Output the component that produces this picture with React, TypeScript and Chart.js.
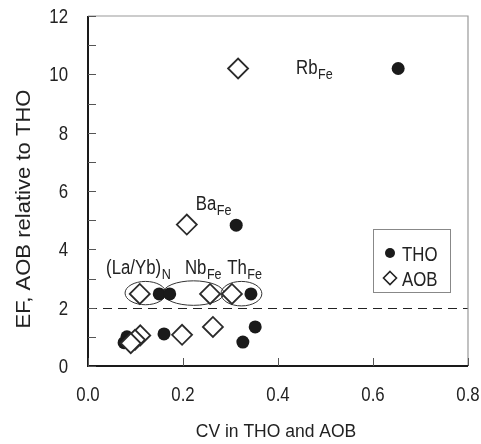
import React, { useEffect, useRef } from 'react';
import { Chart, registerables } from 'chart.js';

Chart.register(...registerables);

// ---- data ----
const THO_X = [0.653, 0.312, 0.343, 0.150, 0.172, 0.160, 0.326, 0.352, 0.082, 0.076];
const THO_Y = [10.2, 4.83, 2.47, 2.47, 2.47, 1.10, 0.82, 1.34, 1.00, 0.80];
const AOB_X = [0.316, 0.208, 0.303, 0.257, 0.109, 0.198, 0.263, 0.110, 0.099, 0.090];
const AOB_Y = [10.2, 4.85, 2.47, 2.47, 2.47, 1.07, 1.34, 1.05, 0.90, 0.78];

const X_TICKS = [0, 0.2, 0.4, 0.6, 0.8];
const Y_TICKS = [0, 2, 4, 6, 8, 10, 12];
const Y_MINOR_TICKS = [0, 1, 2, 3, 4, 5, 6, 7, 8, 9, 10, 11, 12];
const THRESHOLD = 2;

const X_TITLE = 'CV in THO and AOB';
const Y_TITLE = 'EF, AOB relative to THO';

// annotation labels: [main, sub, x (data), y baseline (data)]
const LABELS: [string, string, number, number][] = [
  ['Rb', 'Fe', 0.438, 10.0],
  ['Ba', 'Fe', 0.227, 5.36],
  ['(La/Yb)', 'N', 0.038, 3.16],
  ['Nb', 'Fe', 0.204, 3.16],
  ['Th', 'Fe', 0.293, 3.16],
];

// ellipses: [cx, cy, rx, ry] in data units
const ELLIPSES: [number, number, number, number][] = [
  [0.121, 2.5, 0.043, 0.40],
  [0.222, 2.5, 0.064, 0.42],
  [0.323, 2.48, 0.043, 0.42],
];

const REG = "'Liberation Sans', Arial, sans-serif";
const SQ = 0.84; // horizontal squeeze of the narrow lettering

function narrowText(ctx: CanvasRenderingContext2D, text: string, x: number, y: number, size: number, align: 'left' | 'right' | 'center', squeeze = SQ) {
  ctx.save();
  ctx.font = `${size}px ${REG}`;
  const w = ctx.measureText(text).width * squeeze;
  let sx = x;
  if (align === 'right') sx = x - w;
  else if (align === 'center') sx = x - w / 2;
  ctx.translate(sx, y);
  ctx.scale(squeeze, 1);
  ctx.textAlign = 'left';
  ctx.fillText(text, 0, 0);
  ctx.restore();
  return w;
}

const overlay = {
  id: 'overlay',
  beforeDatasetsDraw(chart: any) {
    const { ctx, scales } = chart;
    const x = scales.x, y = scales.y;
    ctx.save();
    ctx.strokeStyle = '#333';
    ctx.lineWidth = 1;
    for (const [cx, cy, rx, ry] of ELLIPSES) {
      const px = x.getPixelForValue(cx);
      const py = y.getPixelForValue(cy);
      const prx = Math.abs(x.getPixelForValue(cx + rx) - px);
      const pry = Math.abs(y.getPixelForValue(cy + ry) - py);
      ctx.beginPath();
      ctx.ellipse(px, py, prx, pry, 0, 0, Math.PI * 2);
      ctx.stroke();
    }
    const ty = Math.round(y.getPixelForValue(THRESHOLD)) + 0.5;
    ctx.setLineDash([9, 6]);
    ctx.strokeStyle = '#222';
    ctx.beginPath();
    ctx.moveTo(chart.chartArea.left, ty);
    ctx.lineTo(chart.chartArea.right, ty);
    ctx.stroke();
    ctx.setLineDash([]);
    ctx.restore();
  },
  afterDraw(chart: any) {
    const { ctx, scales, chartArea: a } = chart;
    const x = scales.x, y = scales.y;
    ctx.save();
    // frame
    ctx.strokeStyle = '#999';
    ctx.lineWidth = 1.2;
    ctx.beginPath();
    ctx.moveTo(a.left, a.top);
    ctx.lineTo(a.right, a.top);
    ctx.lineTo(a.right, a.bottom);
    ctx.stroke();
    ctx.strokeStyle = '#1a1a1a';
    ctx.lineWidth = 2;
    ctx.beginPath();
    ctx.moveTo(a.left, a.top);
    ctx.lineTo(a.left, a.bottom);
    ctx.lineTo(a.right, a.bottom);
    ctx.stroke();
    // inner ticks
    ctx.strokeStyle = '#555';
    ctx.lineWidth = 1;
    ctx.beginPath();
    for (const v of Y_MINOR_TICKS) {
      const py = Math.round(y.getPixelForValue(v)) + 0.5;
      ctx.moveTo(a.left, py);
      ctx.lineTo(a.left + 8, py);
    }
    for (const v of X_TICKS) {
      const px = Math.round(x.getPixelForValue(v)) + 0.5;
      ctx.moveTo(px, a.bottom);
      ctx.lineTo(px, a.bottom - 8);
    }
    ctx.stroke();
    // tick labels
    ctx.fillStyle = '#222';
    ctx.textBaseline = 'alphabetic';
    for (const v of X_TICKS) {
      narrowText(ctx, v.toFixed(1), x.getPixelForValue(v), a.bottom + 35, 20, 'center');
    }
    for (const v of Y_TICKS) {
      narrowText(ctx, String(v), a.left - 20, y.getPixelForValue(v) + 7, 20, 'right');
    }
    // axis titles
    narrowText(ctx, X_TITLE, (a.left + a.right) / 2 - 2, a.bottom + 71, 17.5, 'center', 1);
    ctx.save();
    ctx.translate(30, a.top + 193);
    ctx.rotate(-Math.PI / 2);
    ctx.font = `21px ${REG}`;
    const tw = ctx.measureText(Y_TITLE).width;
    ctx.scale(239 / tw, 1);
    ctx.textAlign = 'center';
    ctx.fillText(Y_TITLE, 0, 0);
    ctx.restore();
    // annotation labels
    for (const [main, sub, lx, ly] of LABELS) {
      const px = x.getPixelForValue(lx);
      const py = y.getPixelForValue(ly);
      const w = narrowText(ctx, main, px, py, 20, 'left');
      narrowText(ctx, sub, px + w + 0.5, py + 5, 15, 'left');
    }
    // legend
    const lx = a.right - 95, ly = a.top + 213;
    ctx.strokeStyle = '#888';
    ctx.lineWidth = 1;
    ctx.strokeRect(lx + 0.5, ly + 0.5, 77, 63);
    ctx.fillStyle = '#1a1a1a';
    ctx.beginPath();
    ctx.arc(lx + 17, ly + 24, 5, 0, Math.PI * 2);
    ctx.fill();
    ctx.strokeStyle = '#222';
    ctx.lineWidth = 1.6;
    ctx.beginPath();
    const dx = lx + 17, dy = ly + 49, r = 6.5;
    ctx.moveTo(dx, dy - r);
    ctx.lineTo(dx + r, dy);
    ctx.lineTo(dx, dy + r);
    ctx.lineTo(dx - r, dy);
    ctx.closePath();
    ctx.stroke();
    ctx.fillStyle = '#222';
    narrowText(ctx, 'THO', lx + 29, ly + 32, 20, 'left');
    narrowText(ctx, 'AOB', lx + 29, ly + 57, 20, 'left');
    ctx.restore();
  },
};

export default function App() {
  const ref = useRef<HTMLCanvasElement | null>(null);
  useEffect(() => {
    if (!ref.current) return;
    const chart = new Chart(ref.current, {
      type: 'scatter',
      data: {
        datasets: [
          {
            label: 'THO',
            data: THO_X.map((v, i) => ({ x: v, y: THO_Y[i] })),
            pointStyle: 'circle',
            pointRadius: 6.5,
            pointBackgroundColor: '#1a1a1a',
            pointBorderColor: '#1a1a1a',
            pointBorderWidth: 0,
            order: 2,
          },
          {
            label: 'AOB',
            data: AOB_X.map((v, i) => ({ x: v, y: AOB_Y[i] })),
            pointStyle: 'rectRot',
            pointRadius: 10,
            pointBackgroundColor: '#ffffff',
            pointBorderColor: '#2a2a2a',
            pointBorderWidth: 1.8,
            order: 1,
          },
        ],
      },
      options: {
        animation: false,
        responsive: false,
        events: [],
        layout: { padding: { top: 16, right: 13, left: 0, bottom: 0 } },
        plugins: { legend: { display: false }, tooltip: { enabled: false } },
        scales: {
          x: {
            type: 'linear',
            min: 0,
            max: 0.8,
            afterFit: (s: any) => { s.height = 78; s.paddingLeft = 0; s.paddingRight = 0; },
            ticks: { display: false, stepSize: 0.2 },
            grid: { display: false, drawTicks: false },
            border: { display: false },
            title: { display: false },
          },
          y: {
            type: 'linear',
            min: 0,
            max: 12,
            afterFit: (s: any) => { s.width = 88; s.paddingTop = 0; s.paddingBottom = 0; },
            ticks: { display: false, stepSize: 2 },
            grid: { display: false, drawTicks: false },
            border: { display: false },
            title: { display: false },
          },
        },
      },
      plugins: [overlay],
    });
    return () => chart.destroy();
  }, []);
  return (
    <div style={{ position: 'absolute', left: 0, top: 0, width: 481, height: 444, background: '#fff' }}>
      <canvas ref={ref} width={481} height={444} />
    </div>
  );
}
